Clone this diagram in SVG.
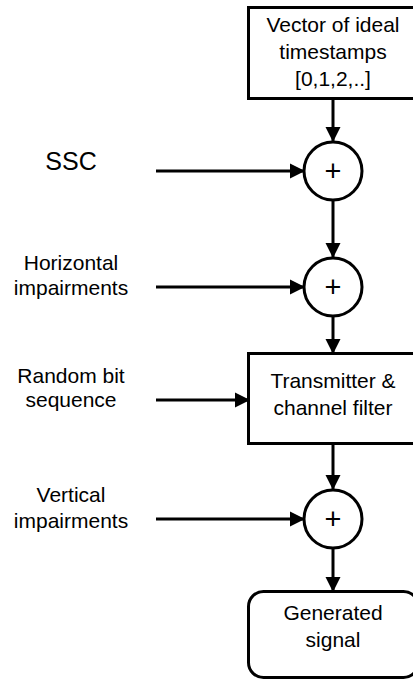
<svg xmlns="http://www.w3.org/2000/svg" width="413" height="680" viewBox="0 0 413 680">
<style>
.box{fill:#fff;stroke:#000;stroke-width:3}
.ln{fill:none;stroke:#000;stroke-width:3;marker-end:url(#ah)}
text{font-family:"Liberation Sans",Arial,sans-serif;font-size:21px;fill:#000;text-anchor:middle}
.plus{font-size:29px;font-weight:300}
.big{font-size:25px}
</style>
<defs>
<marker id="ah" markerUnits="userSpaceOnUse" markerWidth="15" markerHeight="16" refX="14" refY="8" orient="auto">
<path d="M0,0.5 L15,8 L0,15.5 z" fill="#000"/>
</marker>
</defs>
<g id="connectors">
<line class="ln" x1="333" y1="99" x2="333" y2="141"/>
<line class="ln" x1="333" y1="201" x2="333" y2="257"/>
<line class="ln" x1="333" y1="317" x2="333" y2="353"/>
<line class="ln" x1="333" y1="444" x2="333" y2="489"/>
<line class="ln" x1="333" y1="548" x2="333" y2="591"/>
<line class="ln" x1="156" y1="171" x2="304" y2="171"/>
<line class="ln" x1="156" y1="287" x2="304" y2="287"/>
<line class="ln" x1="156" y1="400" x2="249" y2="400"/>
<line class="ln" x1="156" y1="519" x2="304" y2="519"/>
</g>
<g id="timestamps">
<rect class="box" x="248.5" y="7.5" width="170" height="91"/>
<text x="333" y="32">Vector of ideal</text>
<text x="333" y="59">timestamps</text>
<text x="333" y="86">[0,1,2,..]</text>
</g>
<g id="sum1">
<circle class="box" cx="333" cy="171" r="29"/>
<text class="plus" x="333" y="181">+</text>
</g>
<g id="sum2">
<circle class="box" cx="333" cy="287" r="29"/>
<text class="plus" x="333" y="297">+</text>
</g>
<g id="transmitter">
<rect class="box" x="248.5" y="353.5" width="170" height="90"/>
<text x="333" y="388">Transmitter &amp;</text>
<text x="333" y="415">channel filter</text>
</g>
<g id="sum3">
<circle class="box" cx="333" cy="519" r="29"/>
<text class="plus" x="333" y="529">+</text>
</g>
<g id="generated">
<rect class="box" x="248.5" y="591.5" width="170" height="86" rx="15" ry="15"/>
<text x="333" y="620">Generated</text>
<text x="333" y="647">signal</text>
</g>
<g id="ssc">
<text class="big" x="71" y="170">SSC</text>
</g>
<g id="horizontal">
<text x="71" y="270">Horizontal</text>
<text x="71" y="295">impairments</text>
</g>
<g id="random">
<text x="71" y="383">Random bit</text>
<text x="71" y="407">sequence</text>
</g>
<g id="vertical">
<text x="71" y="502">Vertical</text>
<text x="71" y="528">impairments</text>
</g>
</svg>
